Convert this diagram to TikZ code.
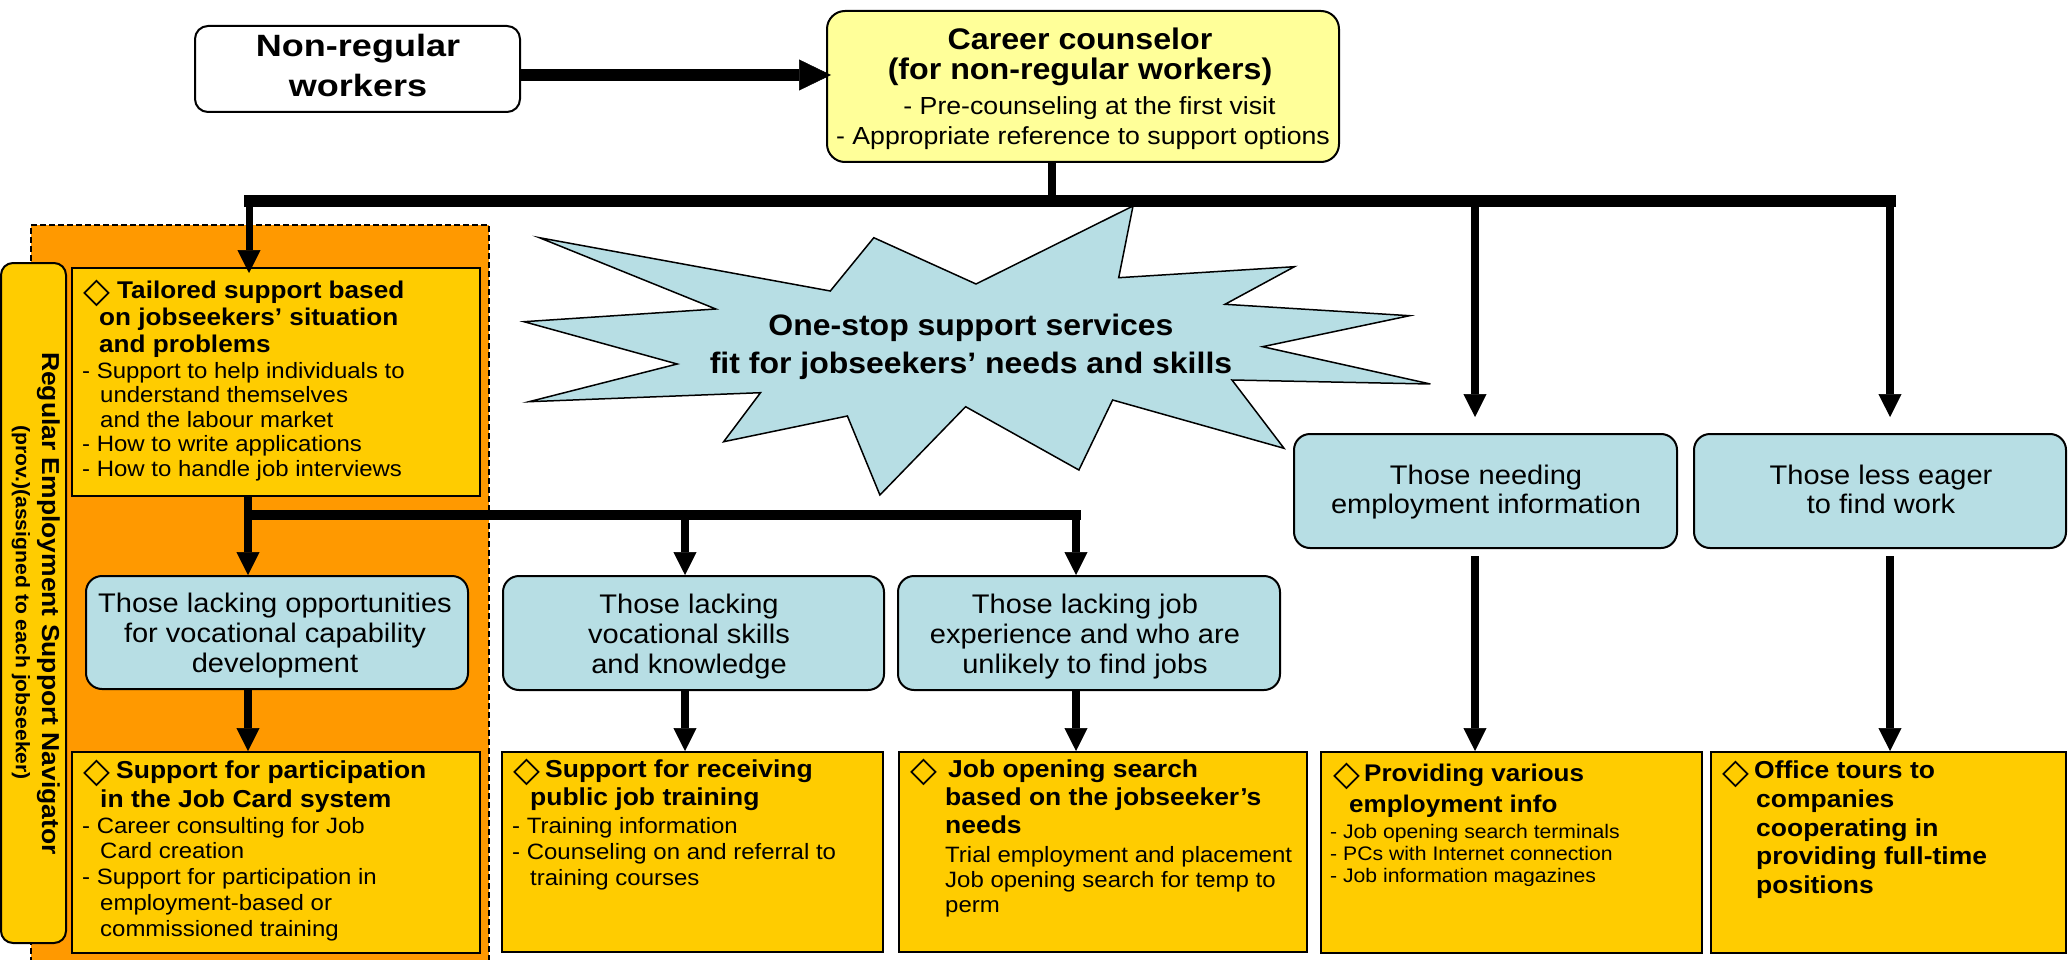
\documentclass[tikz,border=0pt]{standalone}
\usepackage{fontspec}
\setmainfont{Liberation Sans}[FakeStretch=1.08]
\newfontfamily\widefont{Liberation Sans}[FakeStretch=1.17]
\newfontfamily\djv{DejaVu Sans}
\usetikzlibrary{arrows.meta,fit,calc}
\definecolor{cyanbox}{RGB}{183,222,228}
\definecolor{yelbox}{RGB}{255,204,0}
\definecolor{orng}{RGB}{255,153,0}
\definecolor{lyel}{RGB}{255,255,153}
\newcommand{\fst}{\rule{0pt}{26pt}}
\newcommand{\dia}[1]{\makebox[#1pt][l]{\rlap{\raisebox{-4.5pt}{\djv\mdseries\fontsize{35pt}{35pt}\selectfont ◇}}}}
\newcommand{\fsz}[2]{\fontsize{#1pt}{#2pt}\selectfont}
\tikzset{
  cbox/.style={draw, line width=2pt, fill=cyanbox, rounded corners=16pt, inner sep=0pt},
  ctxt/.style={anchor=north, inner sep=0pt, align=center, font=\fsz{26.9}{30}},
  ybx/.style={draw, line width=2pt, fill=yelbox, inner sep=0pt},
  blk/.style={anchor=north west, inner sep=0pt, align=left},
  arr/.style={line width=8pt, -{Triangle[width=23pt,length=23pt,line width=0.5pt]}},
  bigarr/.style={line width=12pt, -{Triangle[width=31pt,length=32pt,line width=0.5pt]}},
}
\begin{document}
\begin{tikzpicture}[x=1pt,y=-1pt]
\useasboundingbox (0,0) rectangle (2068,960);
% orange zone and navigator
\node[fit={(31,225) (489,980)}, inner sep=0pt, fill=orng, draw, dash pattern=on 6pt off 3pt, line width=1.5pt] (zone) {};
\node[fit={(1,263) (66,943)}, inner sep=0pt, fill=yelbox, draw, line width=2pt, rounded corners=12pt] (nav) {};
\node[rotate=-90, anchor=base, inner sep=0pt, font=\fsz{24.5}{27}\bfseries] (navA) at (42,603.5) {Regular Employment Support Navigator};
\node[rotate=-90, anchor=base, inner sep=0pt, font=\fsz{19.6}{22}\bfseries] (navB) at (16,602.5) {(prov.)(assigned to each jobseeker)};
% starburst
\draw[fill=cyanbox, line width=1.5pt, line join=miter] (539.4,237.7) -- (830.3,291) -- (873.8,237.7) -- (976,284) -- (1133,206) -- (1118.7,277.7) -- (1294.4,266.7) -- (1225,304.3) -- (1409.6,315.7) -- (1262.6,346.7) -- (1430.4,384) -- (1232,380) -- (1284,448.3) -- (1112.6,400) -- (1078.9,470) -- (965.6,406.7) -- (879.9,495) -- (847.4,416) -- (723.7,441.7) -- (760.5,392.7) -- (529,401.7) -- (677.2,364) -- (524,321.7) -- (715.8,309) -- cycle;
\node[anchor=north, align=center, inner sep=0pt, font=\fsz{29.6}{38}\bfseries] (star) at (971,309) {\fst One-stop support services\\fit for jobseekers’ needs and skills};
% top boxes
\node[fit={(195,26) (520,112)}, draw, line width=2pt, fill=white, rounded corners=13pt, inner sep=0pt] (nr) {};
\node[anchor=north, inner sep=0pt, align=center, font=\widefont\fsz{30.8}{40}\bfseries] (nrT) at (358,30) {\fst Non-regular\\workers};
\node[fit={(827,11) (1339,162)}, draw, line width=2pt, fill=lyel, rounded corners=18pt, inner sep=0pt] (cc) {};
\node[anchor=north, inner sep=0pt, align=center, font=\fsz{29.8}{30}\bfseries] (ccB) at (1080,23) {\fst Career counselor\\(for non-regular workers)};
\node[anchor=north, inner sep=0pt, align=center, font=\fsz{24.7}{30}] (ccR) at (1083,88) {\fst\hspace*{13pt}- Pre-counseling at the first visit\\- Appropriate reference to support options};
% cyan boxes
\node[cbox, fit={(86,576) (468,689)}] (opp) {};
\node[ctxt] (oppT) at (275,586) {\fst Those lacking opportunities\\for vocational capability\\development};
\node[cbox, fit={(503,576) (884,690)}] (voc) {};
\node[ctxt] (vocT) at (689,587) {\fst Those lacking\\vocational skills\\and knowledge};
\node[cbox, fit={(898,576) (1280,690)}] (jex) {};
\node[ctxt] (jexT) at (1085,587) {\fst Those lacking job\\experience and who are\\unlikely to find jobs};
\node[cbox, fit={(1294,434) (1677,548)}] (nd) {};
\node[ctxt, font=\fsz{26.9}{29}] (ndT) at (1486,458) {\fst Those needing\\employment information};
\node[cbox, fit={(1694,434) (2066,548)}] (eg) {};
\node[ctxt, font=\fsz{26.9}{29}] (egT) at (1881,458) {\fst Those less eager\\to find work};
% yellow boxes
\node[ybx, fit={(72,268) (480,496)}] (tl) {};
\node[blk, font=\fsz{24.2}{27}\bfseries] (tlB) at (83,272) {\fst\dia{34}Tailored support based\\\hspace*{16pt}on jobseekers’ situation\\\hspace*{16pt}and problems};
\node[blk, font=\fsz{22.2}{24.5}] (tlR) at (82,352) {\fst - Support to help individuals to\\\hspace*{18pt}understand themselves\\\hspace*{18pt}and the labour market\\- How to write applications\\- How to handle job interviews};
\node[ybx, fit={(72,752) (480,953)}] (jc) {};
\node[blk, font=\fsz{24.5}{29}\bfseries] (jcB) at (83,752) {\fst\dia{33}Support for participation\\\hspace*{17pt}in the Job Card system};
\node[blk, font=\fsz{22.2}{25.7}] (jcR) at (82,807) {\fst - Career consulting for Job\\\hspace*{18pt}Card creation\\- Support for participation in\\\hspace*{18pt}employment-based or\\\hspace*{18pt}commissioned training};
\node[ybx, fit={(502,752) (883,952)}] (pb) {};
\node[blk, font=\fsz{24.5}{28}\bfseries] (pbB) at (513,751) {\fst\dia{32}Support for receiving\\\hspace*{17pt}public job training};
\node[blk, font=\fsz{22.2}{26}] (pbR) at (512,807) {\fst - Training information\\- Counseling on and referral to\\\hspace*{18pt}training courses};
\node[ybx, fit={(899,752) (1307,952)}] (js) {};
\node[blk, font=\fsz{24.5}{28}\bfseries] (jsB) at (910,751) {\fst\dia{38}Job opening search\\\hspace*{35pt}based on the jobseeker’s\\\hspace*{35pt}needs};
\node[blk, font=\fsz{22.2}{25}] (jsR) at (945,836) {\fst Trial employment and placement\\Job opening search for temp to\\perm};
\node[ybx, fit={(1321,752) (1702,953)}] (pv) {};
\node[blk, font=\fsz{24.1}{31}\bfseries] (pvB) at (1333,755) {\fst\dia{31}Providing various\\\hspace*{16pt}employment info};
\node[blk, font=\fsz{19.6}{22}] (pvR) at (1330,812.6) {\fst - Job opening search terminals\\- PCs with Internet connection\\- Job information magazines};
\node[ybx, fit={(1711,752) (2066,953)}] (of) {};
\node[blk, font=\fsz{24.5}{28.6}\bfseries] (ofB) at (1722,752.6) {\fst\dia{32}Office tours to\\\hspace*{34pt}companies\\\hspace*{34pt}cooperating in\\\hspace*{34pt}providing full-time\\\hspace*{34pt}positions};
% connectors
\coordinate (yA) at (0,75);
\draw[bigarr] (nr.east |- yA) -- ($(cc.west |- yA)+(5,0)$);
\coordinate (vC) at (1052,201);
\draw[line width=8pt] (cc.south -| vC) -- (vC);
\coordinate (b1L) at (244,201);
\coordinate (b1R) at (1896,201);
\draw[line width=11pt] (b1L) -- (b1R);
\coordinate (aL) at (249,201);
\coordinate (aN) at (1475,201);
\coordinate (aE) at (1890,201);
\draw[arr, line width=7pt] (aL) -- ($(tl.north -| aL)+(0,6)$);
\draw[arr] (aN) -- ($(nd.north -| aN)+(0,-16)$);
\draw[arr] (aE) -- ($(eg.north -| aE)+(0,-16)$);
\coordinate (b2L) at (244,515);
\coordinate (b2R) at (1081,515);
\draw[line width=10pt] (b2L) -- (b2R);
\coordinate (q1) at (248,515);
\coordinate (q2) at (685,515);
\coordinate (q3) at (1076,515);
\draw[line width=8pt] (tl.south -| q1) -- (q1);
\draw[arr] (q1) -- (opp.north -| q1);
\draw[arr] (q2) -- (voc.north -| q2);
\draw[arr] (q3) -- (jex.north -| q3);
\draw[arr] (opp.south -| q1) -- (jc.north -| q1);
\draw[arr] (voc.south -| q2) -- (pb.north -| q2);
\draw[arr] (jex.south -| q3) -- (js.north -| q3);
\draw[arr] ($(nd.south -| aN)+(0,7)$) -- (pv.north -| aN);
\draw[arr] ($(eg.south -| aE)+(0,7)$) -- (of.north -| aE);
\end{tikzpicture}
\end{document}
